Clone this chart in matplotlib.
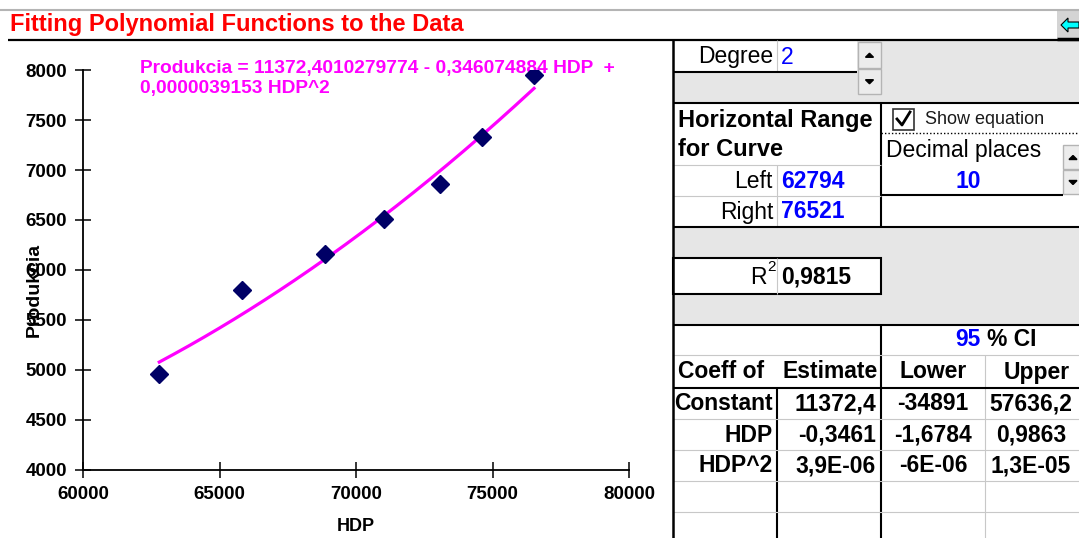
import numpy as np
import matplotlib.pyplot as plt
from matplotlib.patches import Rectangle, Polygon

plt.rcParams['font.family'] = ['Liberation Sans', 'DejaVu Sans']

# data
hdp = [62794, 65830, 68870, 71030, 73080, 74620, 76521]
produkcia = [4960, 5800, 6160, 6510, 6860, 7330, 7950]

# fitted polynomial as shown in the equation label
coef = [11372.4010279774, -0.346074884, 0.0000039153]
degree = 2
range_left = 62794
range_right = 76521
decimals = 10
r_squared = "0,9815"
ci_level = 95

coef_names = ["Constant", "HDP", "HDP^2"]
estimates = ["11372,4", "-0,3461", "3,9E-06"]
lower = ["-34891", "-1,6784", "-6E-06"]
upper = ["57636,2", "0,9863", "1,3E-05"]

W, H = 1079, 538
fig = plt.figure(figsize=(W / 100, H / 100), dpi=100)

# background layer in pixel coordinates (sheet, title, table)
bg = fig.add_axes([0, 0, 1, 1])
bg.set_xlim(0, W)
bg.set_ylim(H, 0)
bg.axis("off")

GRAY = "#e6e6e6"
GRID = "#c8c8c8"
BLUE = "#0000ff"


def hline(y, x0, x1, color="black", lw=1.5, ls="-"):
    bg.plot([x0, x1], [y, y], color=color, lw=lw, ls=ls, solid_capstyle="butt")


def vline(x, y0, y1, color="black", lw=1.5):
    bg.plot([x, x], [y0, y1], color=color, lw=lw, solid_capstyle="butt")


def txt(x, y, s, ha="left", bold=False, color="black", size=16.5, **kw):
    bg.text(x, y, s, ha=ha, va="center", color=color, fontsize=size,
            fontweight="bold" if bold else "normal", **kw)


def spin(x0, y0, w, h):
    for yy, up in ((y0, True), (y0 + h / 2, False)):
        bg.add_patch(Rectangle((x0, yy), w, h / 2 - 1, facecolor="#ececec",
                               edgecolor="#b4b4b4", lw=1))
        cx, cy = x0 + w / 2, yy + h / 4
        if up:
            tri = [(cx - 4, cy + 2), (cx + 4, cy + 2), (cx, cy - 2)]
        else:
            tri = [(cx - 4, cy - 2), (cx + 4, cy - 2), (cx, cy + 2)]
        bg.add_patch(Polygon(tri, closed=True, color="black"))


# title strip
hline(10, 0, W, color="#b4b4b4", lw=1.5)
bg.text(10, 25, "Fitting Polynomial Functions to the Data", color="#ff0000",
        fontsize=17, fontweight="bold", va="center", ha="left")
hline(40, 8, W, lw=1.6)
bg.add_patch(Rectangle((1057, 11), 22, 27, facecolor="#d4d4d4", edgecolor="none"))
bg.add_patch(Polygon([(1061, 25), (1068, 18), (1068, 22), (1079, 22),
                      (1079, 28), (1068, 28), (1068, 32)], closed=True,
                     facecolor="#00ffff", edgecolor="black", lw=0.8))
hline(38.5, 1057, W, lw=2.5)

# gray bands of the sheet
bg.add_patch(Rectangle((673, 40), W - 673, 63, facecolor=GRAY, edgecolor="none"))
bg.add_patch(Rectangle((673, 40), 184, 32, facecolor="white", edgecolor="none"))
bg.add_patch(Rectangle((673, 227), W - 673, 98, facecolor=GRAY, edgecolor="none"))
bg.add_patch(Rectangle((673, 258), 208, 36, facecolor="white", edgecolor="none"))

# degree
vline(777, 40, 72, color=GRID, lw=0.8)
hline(72, 673, 857)
txt(773, 57, "Degree", ha="right")
txt(781, 57, str(degree), color=BLUE)
spin(858, 42, 23, 53)

# horizontal range block
hline(103, 673, W)
vline(881, 103, 227)
txt(678, 120, "Horizontal Range", bold=True, size=17)
txt(678, 150, "for Curve", bold=True, size=17)
hline(165, 673, 881, color=GRID, lw=0.8)
hline(196, 673, 881, color=GRID, lw=0.8)
vline(777, 165, 227, color=GRID, lw=0.8)
txt(773, 181, "Left", ha="right")
txt(781, 181, str(range_left), bold=True, color=BLUE)
txt(773, 212, "Right", ha="right")
txt(781, 212, str(range_right), bold=True, color=BLUE)

# show equation / decimal places
bg.add_patch(Rectangle((893, 109), 21, 21, facecolor="white", edgecolor="#333333", lw=1.2))
bg.plot([897, 902, 910], [119, 125, 112], color="black", lw=2)
txt(925, 119, "Show equation", size=13, color="#1a1a1a")
hline(133, 881, W, lw=1, ls=(0, (1, 1.5)))
txt(886, 151, "Decimal places")
txt(968, 181, str(decimals), ha="center", bold=True, color=BLUE)
hline(195, 881, 1063)
spin(1063, 145, 20, 50)
hline(227, 673, W)

# R squared
bg.add_patch(Rectangle((673, 258), 208, 36, facecolor="none", edgecolor="black", lw=1.5))
vline(777, 258, 294, color=GRID, lw=0.8)
txt(767, 278, "R", ha="right")
txt(767, 267, "2", size=11)
txt(781, 277, r_squared, bold=True)

# coefficient table
hline(325, 673, W)
vline(881, 325, H)
txt(981, 340, str(ci_level), ha="right", bold=True, color=BLUE)
txt(987, 340, "% CI", bold=True)
hline(355, 673, W, color=GRID, lw=0.8)
vline(985, 355, H, color=GRID, lw=0.8)
txt(678, 372, "Coeff of", bold=True)
txt(782, 372, "Estimate", bold=True)
txt(933, 372, "Lower", ha="center", bold=True)
txt(1037, 372, "Upper", ha="center", bold=True)
hline(388, 673, W)
vline(777, 388, H)
for y in (419, 450, 481, 512):
    hline(y, 673, W, color=GRID, lw=0.8)
for i, name in enumerate(coef_names):
    yc = 404 + 31 * i
    txt(773, yc, name, ha="right", bold=True)
    txt(876, yc, estimates[i], ha="right", bold=True)
    txt(933, yc, lower[i], ha="center", bold=True)
    txt(1031, yc, upper[i], ha="center", bold=True)
vline(673, 40, H, lw=1.8)

# equation label
eq1 = "Produkcia = %s - %s HDP  +" % (("%.10f" % coef[0]).replace(".", ","),
                                       ("%.9f" % -coef[1]).replace(".", ","))
eq2 = "%s HDP^2" % ("%.10f" % coef[2]).replace(".", ",")
bg.text(140, 68, eq1, color="#ff00ff", fontsize=13.8, fontweight="bold", va="center")
bg.text(140, 88, eq2, color="#ff00ff", fontsize=13.8, fontweight="bold", va="center")

# chart
ax = fig.add_axes([83 / W, 1 - 470 / H, 546 / W, 400 / H])
ax.patch.set_alpha(0)
xs = np.linspace(range_left, range_right, 200)
ax.plot(xs, np.polyval(coef[::-1], xs), color="#ff00ff", lw=2.3, zorder=2)
ax.plot(hdp, produkcia, "D", color="#000066", markersize=9, zorder=3)
ax.set_xlim(60000, 80000)
ax.set_ylim(4000, 8000)
ax.set_xticks(np.arange(60000, 80001, 5000))
ax.set_yticks(np.arange(4000, 8001, 500))
for s in ("top", "right"):
    ax.spines[s].set_visible(False)
for s in ("left", "bottom"):
    ax.spines[s].set_linewidth(1.3)
ax.tick_params(direction="inout", length=11, width=1.1, labelsize=13.5)
ax.tick_params(axis="y", pad=6)
ax.tick_params(axis="x", pad=6)
for lab in ax.get_xticklabels() + ax.get_yticklabels():
    lab.set_fontweight("bold")
ax.set_xlabel("HDP", fontsize=13, fontweight="bold", labelpad=11)
ax.set_ylabel("Produkcia", fontsize=14, fontweight="bold")
ax.yaxis.set_label_coords(-40 / 546, 0.45)

fig.savefig("out.png", dpi=100)
